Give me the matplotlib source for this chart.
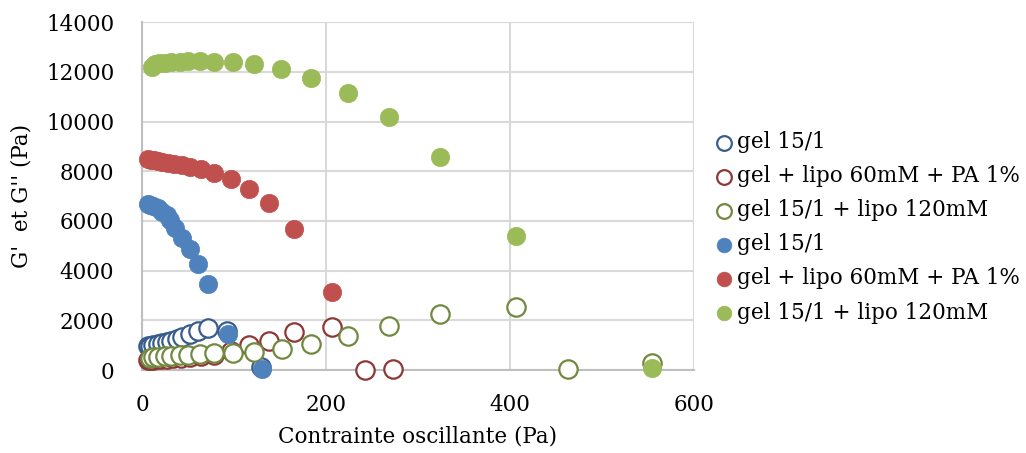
import matplotlib
matplotlib.use("Agg")
from matplotlib import pyplot as plt

# gel 15/1
BLUE_X_OPEN = [6, 9, 12, 17, 22, 27, 32, 38, 44, 52, 61, 72, 92, 129]
BLUE_Y_OPEN = [950, 980, 1000, 1030, 1070, 1110, 1170, 1250, 1340, 1450, 1580, 1700, 1550, 120]
BLUE_X_FILL = [6, 9, 12, 17, 22, 27, 30, 36, 43, 52, 61, 72, 94, 130]
BLUE_Y_FILL = [6680, 6660, 6600, 6500, 6350, 6250, 6050, 5700, 5300, 4850, 4280, 3450, 1450, 40]

# gel + lipo 60mM + PA 1%
RED_X_OPEN = [6, 9, 12, 16, 21, 27, 34, 42, 52, 64, 78, 97, 116, 138, 165, 206, 242, 273]
RED_Y_OPEN = [400, 410, 420, 430, 440, 450, 470, 490, 520, 560, 620, 760, 1000, 1170, 1530, 1730, 0, 40]
RED_X_FILL = [7, 10, 13, 17, 22, 28, 35, 43, 52, 64, 78, 97, 116, 138, 165, 206]
RED_Y_FILL = [8480, 8470, 8450, 8420, 8380, 8330, 8290, 8240, 8180, 8070, 7940, 7700, 7300, 6730, 5660, 3150]

# gel 15/1 + lipo 120mM
GREEN_X_OPEN = [9, 12, 17, 25, 32, 41, 50, 63, 78, 99, 122, 152, 184, 224, 268, 324, 406, 463, 554]
GREEN_Y_OPEN = [480, 510, 530, 550, 570, 590, 610, 640, 680, 700, 740, 830, 1050, 1370, 1770, 2240, 2550, 30, 290]
GREEN_X_FILL = [11, 14, 19, 25, 32, 41, 50, 63, 78, 99, 122, 151, 184, 224, 268, 324, 406, 554]
GREEN_Y_FILL = [12200, 12300, 12340, 12360, 12380, 12390, 12420, 12430, 12400, 12390, 12310, 12110,
                11760, 11160, 10170, 8560, 5400, 80]

LABELS = ["gel 15/1", "gel + lipo 60mM + PA 1%", "gel 15/1 + lipo 120mM"]
EDGE = ["#385D8A", "#8C3836", "#71893F"]
FILL = ["#4F81BD", "#C0504D", "#9BBB59"]

plt.rcParams["font.family"] = ["DejaVu Serif"]
FS = 15.5

fig = plt.figure(figsize=(10.26, 4.53), dpi=100)
ax = fig.add_axes([0.1384, 0.1832, 0.538, 0.768])

S = 175
opens = [(BLUE_X_OPEN, BLUE_Y_OPEN), (RED_X_OPEN, RED_Y_OPEN), (GREEN_X_OPEN, GREEN_Y_OPEN)]
fills = [(BLUE_X_FILL, BLUE_Y_FILL), (RED_X_FILL, RED_Y_FILL), (GREEN_X_FILL, GREEN_Y_FILL)]
for (x, y), ec, lab in zip(opens, EDGE, LABELS):
    ax.scatter(x, y, s=S, facecolor="white", edgecolor=ec, linewidth=1.6,
               label=lab, clip_on=False, zorder=3)
for (x, y), fc, lab in zip(fills, FILL, LABELS):
    ax.scatter(x, y, s=S, facecolor=fc, edgecolor=fc, linewidth=0.5,
               label=lab, clip_on=False, zorder=4)

ax.set_xlim(0, 600)
ax.set_ylim(0, 14000)
ax.set_xticks([0, 200, 400, 600])
ax.set_yticks(range(0, 14001, 2000))
ax.grid(True, color="#D9D9D9", linewidth=1.5)
ax.set_axisbelow(True)
for sp in ["top", "right"]:
    ax.spines[sp].set_visible(False)
for sp in ["left", "bottom"]:
    ax.spines[sp].set_color("#BFBFBF")
    ax.spines[sp].set_linewidth(1.5)
ax.tick_params(axis="y", length=0, labelsize=FS, pad=20)
ax.tick_params(axis="x", length=0, labelsize=FS, pad=17)
ax.set_xlabel("Contrainte oscillante (Pa)", fontsize=FS, labelpad=7)
ax.set_ylabel("G'  et G'' (Pa)", fontsize=FS, labelpad=10)

h, l = ax.get_legend_handles_labels()
leg = fig.legend(h, l, loc="center left", bbox_to_anchor=(0.697, 0.498),
                 frameon=False, fontsize=FS, handlelength=0.8, handletextpad=0.2,
                 labelspacing=0.56, borderpad=0, borderaxespad=0, markerscale=0.8)

fig.savefig("out.png", dpi=100)
